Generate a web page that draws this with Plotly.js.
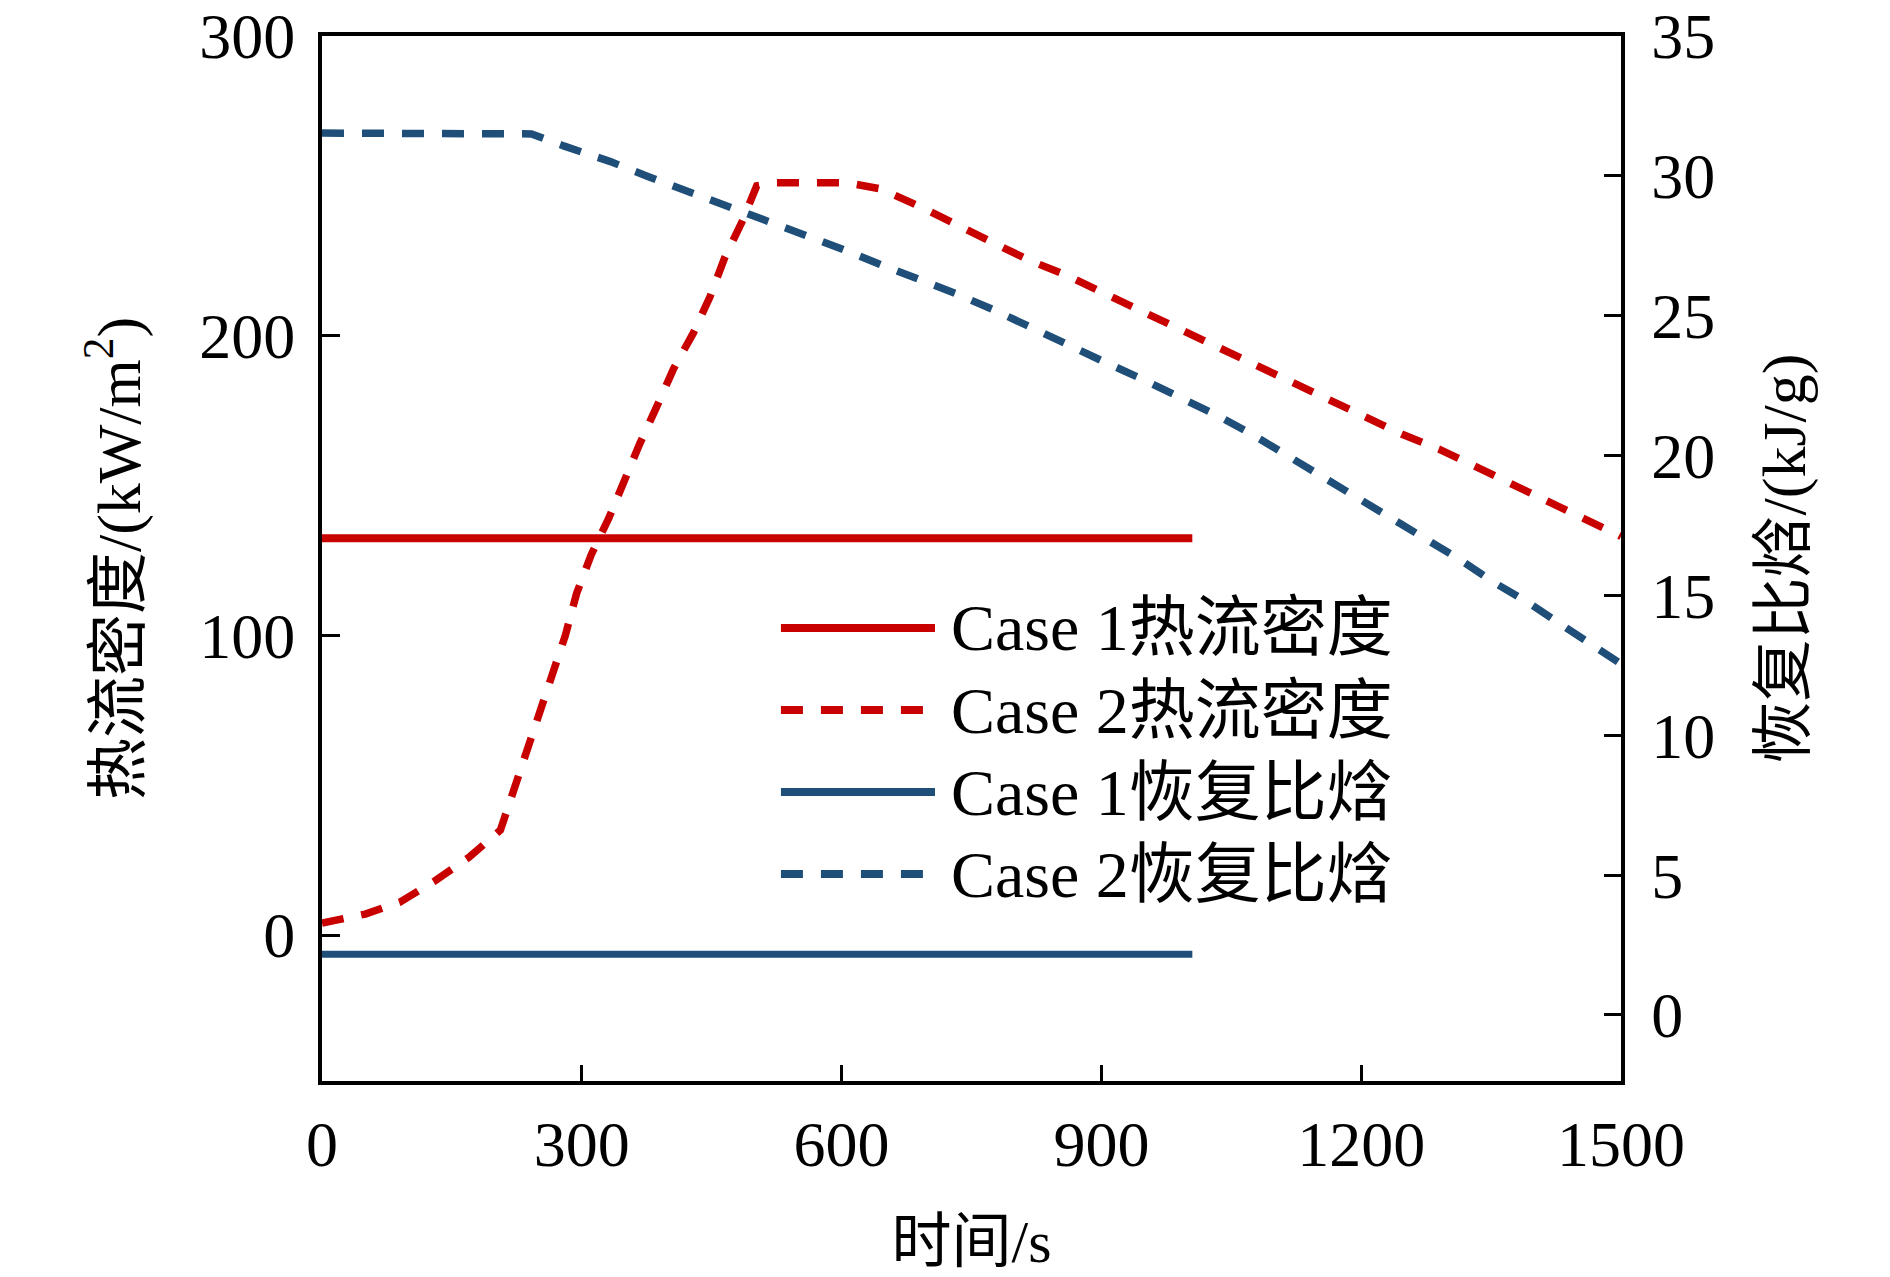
<!DOCTYPE html>
<html>
<head>
<meta charset="utf-8">
<script src="https://cdn.plot.ly/plotly-3.0.1.min.js"></script>
<style>
  html, body { margin: 0; padding: 0; background: #fff; }
  #chart { width: 1890px; height: 1277px; }
</style>
</head>
<body>
<div id="chart"></div>
<script>
// Case 1: constant values, 0 - 1005 s
var case1Time = [0, 1005];
var case1Flux = [132.4, 132.4];      // kW/m2 (left axis)
var case1Enthalpy = [2.17, 2.17];    // kJ/g (right axis)

// Case 2 heat flux (left axis)
var case2FluxTime = [0, 50, 90, 130, 170, 206, 221, 236, 250, 265, 281, 294, 311, 331, 348, 367,
    386, 406, 429, 448, 465, 485, 502, 520, 607, 645, 691, 731, 775, 818, 861, 904, 948, 991,
    1034, 1078, 1118, 1161, 1204, 1248, 1291, 1334, 1378, 1421, 1461, 1500];
var case2Flux = [4, 7, 11, 18, 26, 35, 48, 61, 74, 87, 100, 114, 127, 139, 151, 164,
    176, 189, 201, 213, 226, 238, 250, 251, 251, 249, 243, 237, 231, 225, 220, 214, 208, 202,
    196, 190, 185, 179, 173, 167, 162, 156, 150, 144, 138, 133];

// Case 2 recovery enthalpy (right axis)
var case2EnthTime = [0, 242, 279, 333, 377, 421, 465, 510, 556, 601, 645, 688, 731, 775, 818,
    861, 904, 948, 991, 1034, 1075, 1115, 1155, 1196, 1233, 1273, 1313, 1353, 1394, 1434, 1480, 1500];
var case2Enthalpy = [31.53, 31.5, 31.07, 30.51, 29.97, 29.47, 28.96, 28.48, 27.95, 27.38, 26.83,
    26.35, 25.8, 25.22, 24.57, 23.96, 23.34, 22.72, 22.11, 21.43, 20.74, 19.99, 19.24, 18.48,
    17.73, 16.98, 16.3, 15.47, 14.72, 13.9, 13.01, 12.55];

var xTicks = [0, 300, 600, 900, 1200, 1500];
var yTicks = [0, 100, 200, 300];
var y2Ticks = [0, 5, 10, 15, 20, 25, 30, 35];

var legendNames = ['Case 1热流密度', 'Case 2热流密度', 'Case 1恢复比焓', 'Case 2恢复比焓'];

var red = '#c80000';
var blue = '#1f4e79';
var dashed = '22px,18px';
var serif = 'Liberation Serif, "Times New Roman", "Noto Sans CJK SC", serif';

var trace1 = {
    x: case1Time, y: case1Flux, name: legendNames[0],
    type: 'scatter', mode: 'lines',
    line: {color: red, width: 8}
};
var trace2 = {
    x: case2FluxTime, y: case2Flux, name: legendNames[1],
    type: 'scatter', mode: 'lines',
    line: {color: red, width: 7.5, dash: dashed}
};
var trace3 = {
    x: case1Time, y: case1Enthalpy, name: legendNames[2], yaxis: 'y2',
    type: 'scatter', mode: 'lines',
    line: {color: blue, width: 7}
};
var trace4 = {
    x: case2EnthTime, y: case2Enthalpy, name: legendNames[3], yaxis: 'y2',
    type: 'scatter', mode: 'lines',
    line: {color: blue, width: 7.5, dash: dashed}
};
var data = [trace1, trace2, trace3, trace4];

// hand-made legend so the line samples are as long as in the original
var colors = [red, red, blue, blue];
var dashes = ['solid', dashed, 'solid', dashed];
var shapes = [];
var annotations = [];
for (var i = 0; i < legendNames.length; i++) {
    var yy = 0.4335 - i * 0.0785;
    shapes.push({
        type: 'line', xref: 'paper', yref: 'paper',
        x0: 0.3533, x1: 0.4719, y0: yy, y1: yy,
        line: {color: colors[i], width: 8, dash: dashes[i]}
    });
    annotations.push({
        xref: 'paper', yref: 'paper', x: 0.4827, y: yy,
        xanchor: 'left', yanchor: 'middle', showarrow: false,
        text: legendNames[i],
        font: {family: serif, size: 66, color: '#000'}
    });
}

var layout = {
    width: 1890,
    height: 1277,
    margin: {l: 322, r: 269, t: 36, b: 196, pad: 0},
    paper_bgcolor: '#fff',
    plot_bgcolor: '#fff',
    showlegend: false,
    font: {family: serif, size: 64, color: '#000'},
    shapes: shapes,
    annotations: annotations,
    xaxis: {
        range: [0, 1500],
        tickvals: xTicks,
        ticks: 'inside', ticklen: 16, tickwidth: 3, tickcolor: '#000',
        ticklabelstandoff: 4,
        showline: true, linewidth: 4, linecolor: '#000', mirror: true,
        showgrid: false, zeroline: false,
        tickfont: {family: serif, size: 64},
        title: {text: '时间/s', font: {family: serif, size: 60}, standoff: 42}
    },
    yaxis: {
        range: [-48.7, 300],
        tickvals: yTicks,
        ticks: 'inside', ticklen: 18, tickwidth: 3, tickcolor: '#000',
        ticklabelstandoff: 10,
        showline: true, linewidth: 4, linecolor: '#000',
        showgrid: false, zeroline: false,
        tickfont: {family: serif, size: 64},
        title: {text: '热流密度/(kW/m<sup>2</sup>)', font: {family: serif, size: 62}, standoff: 40}
    },
    yaxis2: {
        overlaying: 'y', side: 'right',
        range: [-2.36, 35],
        tickvals: y2Ticks,
        ticks: 'inside', ticklen: 17, tickwidth: 3, tickcolor: '#000',
        ticklabelstandoff: 14,
        showline: true, linewidth: 3.5, linecolor: '#000',
        showgrid: false, zeroline: false,
        tickfont: {family: serif, size: 64},
        title: {text: '恢复比焓/(kJ/g)', font: {family: serif, size: 62}, standoff: 48}
    }
};

Plotly.newPlot('chart', data, layout, {displayModeBar: false, staticPlot: true});
</script>
</body>
</html>
